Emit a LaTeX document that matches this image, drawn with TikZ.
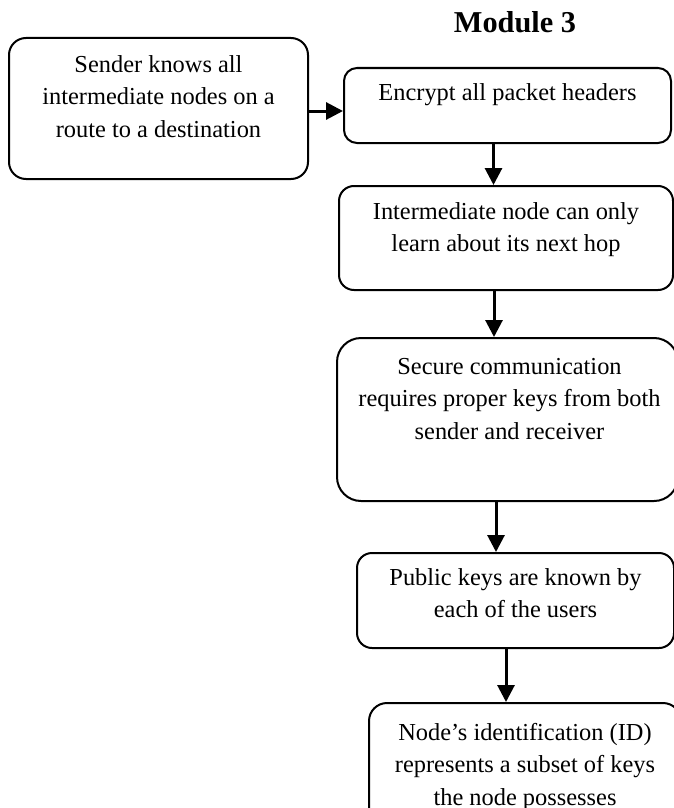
\documentclass[tikz,border=0pt]{standalone}
\usepackage{fontspec}
\setmainfont{Liberation Serif}
\usetikzlibrary{arrows.meta,calc}

\tikzset{
  box/.style={draw, line width=2pt, rounded corners=#1, inner sep=0pt, fill=white},
  box/.default=15pt,
  txt/.style={align=center, inner sep=0pt, anchor=north,
              font=\fontsize{24.4}{32.5}\selectfont},
  arr/.style={line width=3pt, -{Triangle[length=17pt,width=17pt]}},
}

\begin{document}
\begin{tikzpicture}[x=1pt,y=-1pt]
  \useasboundingbox (0,0) rectangle (674,808);
  \clip (0,0) rectangle (674,808);

  % heading
  \node[anchor=base, inner sep=0pt, font=\fontsize{30.3}{36}\selectfont\bfseries]
    (title) at (515,33) {Module 3};

  % boxes, given by their top-left corners and sizes
  \node[box=17pt, minimum width=299pt, minimum height=141pt, anchor=north west] (b1) at (8,37) {};
  \node[box=13pt, minimum width=327pt, minimum height=75pt, anchor=north west] (b2) at (343,67) {};
  \node[box=15pt, minimum width=334pt, minimum height=104pt, anchor=north west] (b3) at (338,185) {};
  \node[box=24pt, minimum width=341pt, minimum height=163pt, anchor=north west] (b4) at (336,337) {};
  \node[box=15pt, minimum width=317pt, minimum height=95pt, anchor=north west] (b5) at (356,552) {};
  \node[box=18pt, minimum width=312pt, minimum height=140pt, anchor=north west] (b6) at (368,702) {};

  % box texts
  \node[txt] (t1) at ([yshift=-18pt]b1.north) {Sender knows all\\intermediate nodes on a\\route to a destination};
  \node[txt] (t2) at ([yshift=-16pt]b2.north) {Encrypt all packet headers};
  \node[txt] (t3) at ([yshift=-17pt]b3.north) {Intermediate node can only\\learn about its next hop};
  \node[txt] (t4) at ([xshift=2pt,yshift=-21pt]b4.north) {Secure communication\\requires proper keys from both\\sender and receiver};
  \node[txt] (t5) at ([yshift=-16pt]b5.north) {Public keys are known by\\each of the users};
  \node[txt] (t6) at ([yshift=-21pt]b6.north) {Node’s identification (ID)\\represents a subset of keys\\the node possesses};

  % connectors
  \draw[arr] ([yshift=-2.5pt]b1.east) -- ([yshift=-2.5pt]b1.east -| b2.west);
  \draw[arr] ([xshift=-14pt]b2.south) -- ([xshift=-14pt]b2.south |- b3.north);
  \draw[arr] ([xshift=-12pt]b3.south) -- ([xshift=-12pt]b3.south |- b4.north);
  \draw[arr] ([xshift=-11.5pt]b4.south) -- ([xshift=-11.5pt]b4.south |- b5.north);
  \draw[arr] ([xshift=-9.5pt]b5.south) -- ([xshift=-9.5pt]b5.south |- b6.north);
\end{tikzpicture}
\end{document}
